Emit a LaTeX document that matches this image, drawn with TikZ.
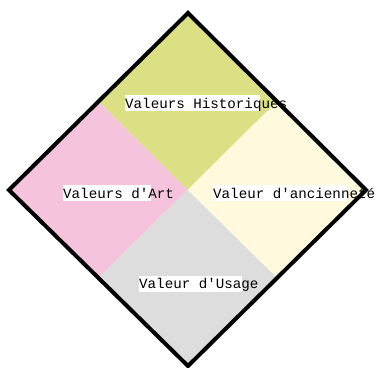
\documentclass[tikz,border=0pt]{standalone}
\usepackage{fontspec}
\setmonofont{Liberation Mono}
\usepackage{xcolor}
\usetikzlibrary{calc}
\definecolor{histgreen}{RGB}{219,224,133}
\definecolor{artpink}{RGB}{245,196,220}
\definecolor{ancyellow}{RGB}{255,250,221}
\definecolor{usagegray}{RGB}{221,221,221}

\begin{document}
\begin{tikzpicture}[x=1pt,y=-1pt,
  lbox/.style={fill=white,inner sep=0pt,minimum height=16pt,anchor=west},
  ltext/.style={font=\ttfamily\fontsize{14.2}{14}\selectfont,inner sep=0pt,anchor=base west}]
\useasboundingbox (0,0) rectangle (377,367);
% corners of the diamond
\coordinate (top) at (188,13);
\coordinate (left) at (9,190);
\coordinate (right) at (366,190);
\coordinate (bot) at (188,366);
\coordinate (mid) at (187.5,190);
% quadrants
\fill[histgreen] (top) -- ($(top)!0.5!(right)$) -- (mid) -- ($(top)!0.5!(left)$) -- cycle;
\fill[artpink] (left) -- ($(left)!0.5!(top)$) -- (mid) -- ($(left)!0.5!(bot)$) -- cycle;
\fill[ancyellow] (right) -- ($(right)!0.5!(top)$) -- (mid) -- ($(right)!0.5!(bot)$) -- cycle;
\fill[usagegray] (bot) -- ($(bot)!0.5!(left)$) -- (mid) -- ($(bot)!0.5!(right)$) -- cycle;
\draw[line width=4pt,line join=miter] (top) -- (right) -- (bot) -- (left) -- cycle;
% labels
\node[lbox,minimum width=135pt] (histbox) at (125,103) {};
\node[ltext] (hist) at ([yshift=3pt]histbox.south west) {Valeurs Historiques};
\node[lbox,minimum width=88pt] (artbox) at (63,193) {};
\node[ltext] (art) at ([yshift=3pt]artbox.south west) {Valeurs d'Art};
\node[lbox,minimum width=134pt] (ancbox) at (213,193) {};
\node[ltext] (anc) at ([yshift=3pt]ancbox.south west) {Valeur d'ancienneté};
\node[lbox,minimum width=103pt] (usagebox) at (139,283.5) {};
\node[ltext] (usage) at ([yshift=3pt]usagebox.south west) {Valeur d'Usage};
\end{tikzpicture}
\end{document}
